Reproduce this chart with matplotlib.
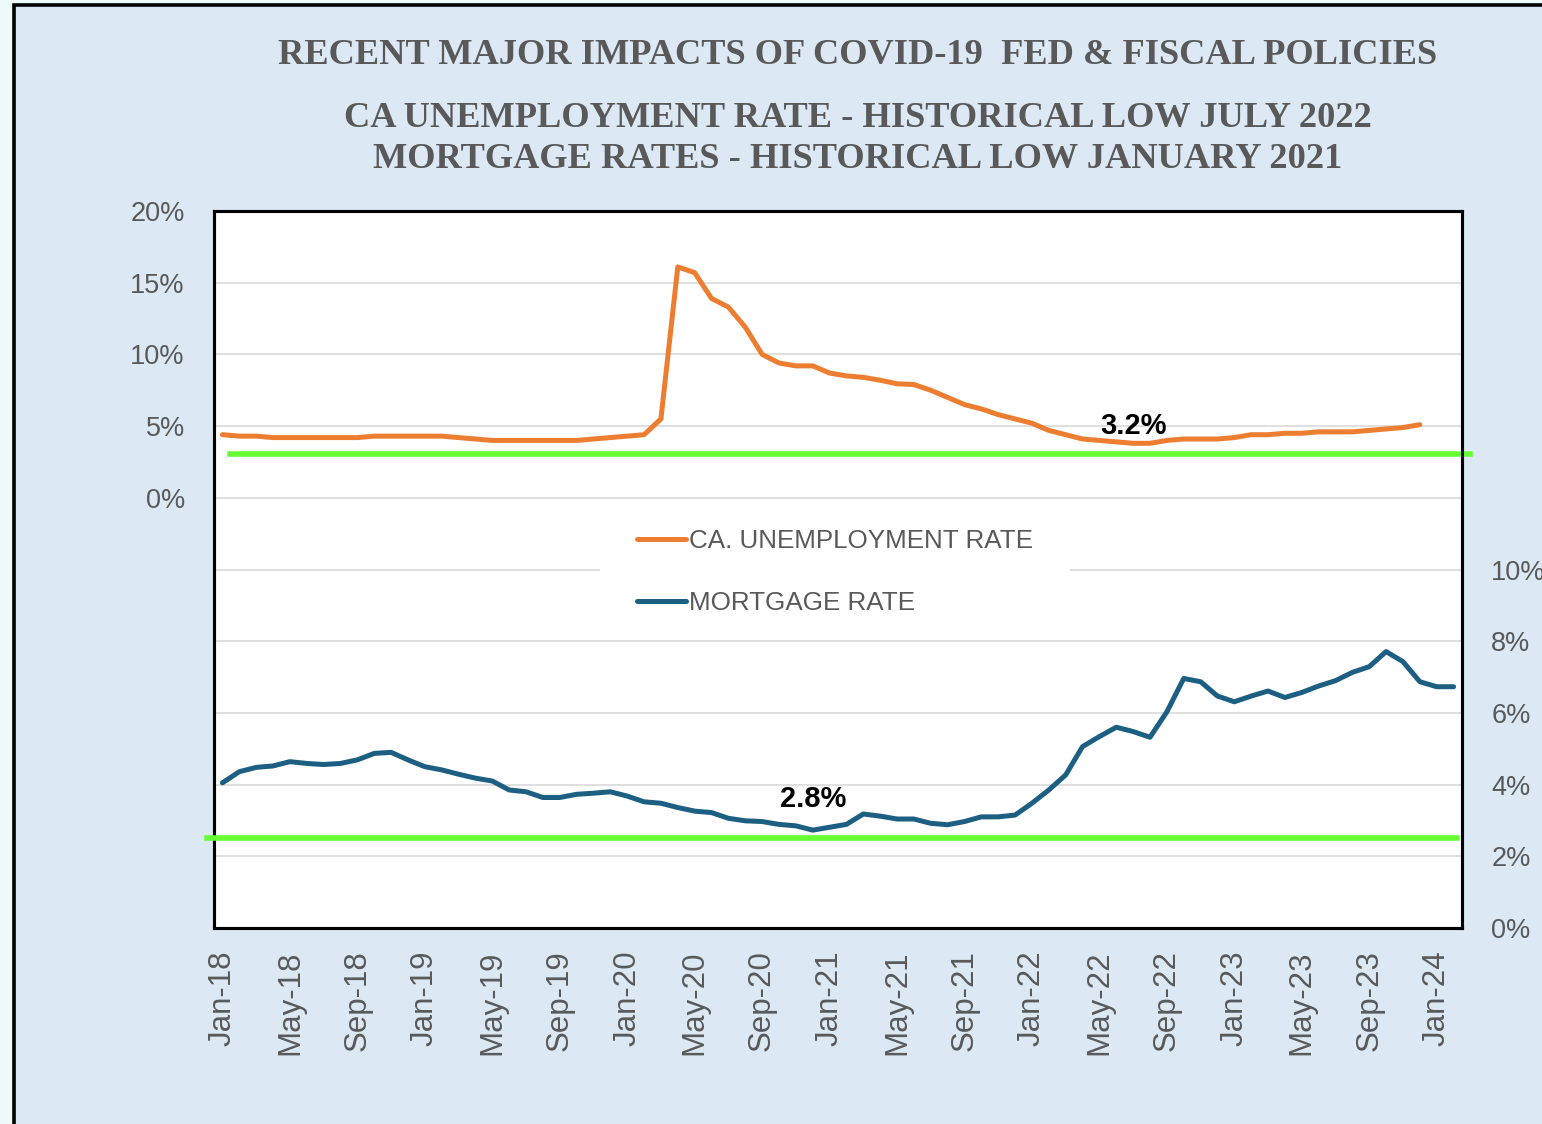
import numpy as np
import matplotlib
matplotlib.use("Agg")
import matplotlib.pyplot as plt
from matplotlib.patches import Rectangle
from matplotlib.ticker import FuncFormatter, MultipleLocator

# monthly categories Jan-18 .. Feb-24
months = ["Jan", "Feb", "Mar", "Apr", "May", "Jun", "Jul", "Aug", "Sep", "Oct", "Nov", "Dec"]
categories = [f"{m}-{y}" for y in range(18, 25) for m in months][:74]

ca_unemployment = [
    4.4, 4.3, 4.3, 4.2, 4.2, 4.2, 4.2, 4.2, 4.2, 4.3, 4.3, 4.3,
    4.3, 4.3, 4.2, 4.1, 4.0, 4.0, 4.0, 4.0, 4.0, 4.0, 4.1, 4.2,
    4.3, 4.4, 5.5, 16.1, 15.7, 13.9, 13.3, 11.9, 10.0, 9.4, 9.2, 9.2,
    8.7, 8.5, 8.4, 8.2, 7.95, 7.9, 7.5, 7.0, 6.5, 6.2, 5.8, 5.5,
    5.2, 4.7, 4.4, 4.1, 4.0, 3.9, 3.8, 3.8, 4.0, 4.1, 4.1, 4.1,
    4.2, 4.4, 4.4, 4.5, 4.5, 4.6, 4.6, 4.6, 4.7, 4.8, 4.9, 5.1,
]
mortgage_rate = [
    4.05, 4.36, 4.48, 4.52, 4.64, 4.59, 4.56, 4.59, 4.69, 4.87, 4.90, 4.69,
    4.50, 4.41, 4.29, 4.18, 4.10, 3.85, 3.80, 3.64, 3.64, 3.73, 3.76, 3.80,
    3.68, 3.52, 3.48, 3.36, 3.26, 3.22, 3.06, 2.99, 2.97, 2.89, 2.85, 2.73,
    2.81, 2.89, 3.18, 3.12, 3.04, 3.04, 2.92, 2.88, 2.97, 3.10, 3.10, 3.15,
    3.48, 3.85, 4.27, 5.06, 5.34, 5.60, 5.48, 5.32, 6.03, 6.96, 6.87, 6.47,
    6.31, 6.47, 6.61, 6.43, 6.57, 6.75, 6.90, 7.13, 7.29, 7.71, 7.43, 6.87,
    6.73, 6.73,
]

unemp_low_line = 3.07
mortgage_low_line = 2.5
unemp_note = (54, 5.0, "3.2%")
mortgage_note = (35, 3.6, "2.8%")

titles = [
    "RECENT MAJOR IMPACTS OF COVID-19  FED & FISCAL POLICIES",
    "CA UNEMPLOYMENT RATE - HISTORICAL LOW JULY 2022",
    "MORTGAGE RATES - HISTORICAL LOW JANUARY 2021",
]

ORANGE = "#ed7d31"
BLUE = "#1c5f82"
GREEN = "#66ff33"
GREY = "#595959"

fig = plt.figure(figsize=(15.42, 11.24), dpi=100)
fig.patch.set_facecolor("#effbfb")
fig.patches.append(Rectangle((14 / 1542, -0.1), 2.0, 1 - 5 / 1124 + 0.1,
                             transform=fig.transFigure, facecolor="#dce9f5",
                             edgecolor="black", linewidth=2.6, zorder=-10))

ax = fig.add_axes([214 / 1542, 196 / 1124, 1248 / 1542, 717 / 1124])
ax2 = ax.twinx()
x = np.arange(len(categories))

ax.plot(x[:len(ca_unemployment)], ca_unemployment, color=ORANGE, lw=3.6,
        solid_capstyle="round", label="CA. UNEMPLOYMENT RATE", zorder=3)
ax2.plot(x[:len(mortgage_rate)], mortgage_rate, color=BLUE, lw=3.6,
         solid_capstyle="round", label="MORTGAGE RATE", zorder=3)

ax.plot([0.45, 74.0], [unemp_low_line] * 2, color=GREEN, lw=4, clip_on=False, zorder=4)
ax2.plot([-0.9, 73.2], [mortgage_low_line] * 2, color=GREEN, lw=4, clip_on=False, zorder=4)

ax.text(unemp_note[0], unemp_note[1], unemp_note[2], fontsize=21, fontweight="bold",
        ha="center", va="center", family="Liberation Sans", zorder=5)
ax2.text(mortgage_note[0], mortgage_note[1], mortgage_note[2], fontsize=21, fontweight="bold",
         ha="center", va="center", family="Liberation Sans", zorder=5)

ax.set_xlim(-0.5, len(categories) - 0.5)
ax.set_ylim(-30, 20)
ax2.set_ylim(0, 20)
ax.yaxis.set_major_locator(MultipleLocator(5))
ax2.yaxis.set_major_locator(MultipleLocator(2))
ax.yaxis.set_major_formatter(FuncFormatter(lambda v, p: f"{v:.0f}%" if v >= 0 else ""))
ax2.yaxis.set_major_formatter(FuncFormatter(lambda v, p: f"{v:.0f}%" if v <= 10 else ""))
ax.set_xticks(x[::4])
ax.set_xticklabels(categories[::4], rotation=90)

ax.grid(axis="y", color="#d9d9d9", lw=1.2)
ax.set_axisbelow(True)
ax.set_facecolor("white")
ax2.patch.set_visible(False)

for a in (ax, ax2):
    a.tick_params(length=0, labelsize=19.5, labelcolor=GREY)
    for lab in a.get_xticklabels() + a.get_yticklabels():
        lab.set_family("Liberation Sans")
    for s in a.spines.values():
        s.set_linewidth(2.2)
        s.set_color("black")
ax.tick_params(axis="y", pad=21)
ax2.tick_params(axis="y", pad=21)
ax.tick_params(axis="x", pad=16, labelsize=22.5)

# white legend backing that hides the middle gridline
ax.add_patch(Rectangle((0.309, 0.45), 0.377, 0.1, transform=ax.transAxes,
                       facecolor="white", edgecolor="none", zorder=1))

h1, l1 = ax.get_legend_handles_labels()
h2, l2 = ax2.get_legend_handles_labels()
leg = ax2.legend(h1 + h2, l1 + l2, loc="center", bbox_to_anchor=(0.4976, 0.4965),
                 frameon=False, handlelength=1.9, handletextpad=0.1, labelspacing=1.45,
                 borderpad=0.3, prop={"family": "Liberation Sans", "size": 18.7})
for t in leg.get_texts():
    t.set_color(GREY)
leg.set_zorder(10)

# title lines, sized to the width they take in the original
targets = [(0.951, 1158), (0.895, 1024), (0.8577, 967)]
renderer = fig.canvas.get_renderer()
for txt, (yy, w) in zip(titles, targets):
    t = fig.text(0.5564, yy, txt, ha="center", va="center", color=GREY,
                 family="Liberation Serif", fontweight="bold", fontsize=20)
    cur = t.get_window_extent(renderer).width
    t.set_fontsize(20 * w / cur)

fig.savefig("out.png", dpi=100, facecolor=fig.get_facecolor())
